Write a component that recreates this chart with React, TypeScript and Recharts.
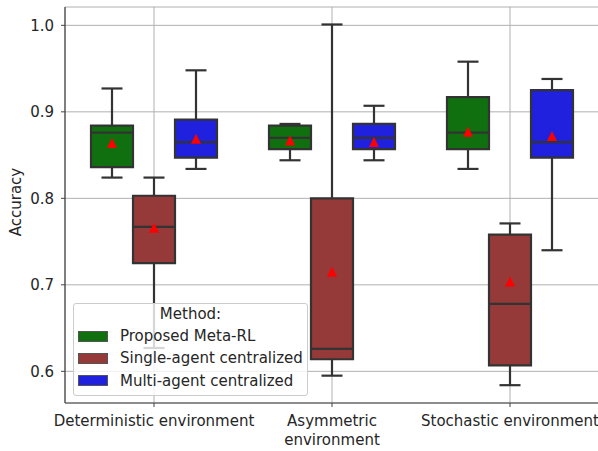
import React from "react";
import { BarChart, Bar, XAxis, YAxis, CartesianGrid, Legend } from "recharts";

const environments = ["Deterministic environment", "Asymmetric\nenvironment", "Stochastic environment"];
const methods = ["Proposed Meta-RL", "Single-agent centralized", "Multi-agent centralized"];
const methodKeys = ["meta", "single", "multi"];
const methodColors = ["#107010", "#963939", "#2020df"];

// per environment: [lower whisker, q1, median, q3, upper whisker, mean]
const metaRL = [
  [0.824, 0.836, 0.876, 0.884, 0.927, 0.864],
  [0.844, 0.857, 0.870, 0.884, 0.886, 0.867],
  [0.834, 0.857, 0.876, 0.917, 0.958, 0.877],
];
const singleAgent = [
  [0.627, 0.725, 0.767, 0.803, 0.824, 0.766],
  [0.595, 0.614, 0.626, 0.800, 1.001, 0.715],
  [0.584, 0.607, 0.678, 0.758, 0.771, 0.704],
];
const multiAgent = [
  [0.834, 0.847, 0.865, 0.891, 0.948, 0.869],
  [0.844, 0.857, 0.870, 0.886, 0.907, 0.865],
  [0.740, 0.847, 0.865, 0.925, 0.938, 0.872],
];
const yTicks = [0.6, 0.7, 0.8, 0.9, 1.0];

const data = environments.map((env, i) => ({
  env,
  meta: metaRL[i],
  single: singleAgent[i],
  multi: multiAgent[i],
}));

const FONT = "DejaVu Sans, sans-serif";
const LINE = "#333333";
const FS = 15;

// draws whiskers, caps, median and mean marker for one box
const Whisker = (props: any) => {
  const { x, y, width, height, payload, statKey } = props;
  const [lo, q1, med, q3, hi, mean] = payload[statKey];
  const top = Math.min(y, y + height);
  const bot = Math.max(y, y + height);
  const pix = (v: number) => top + ((hi - v) / (hi - lo)) * (bot - top);
  const cx = x + width / 2;
  const cap = width / 4;
  const my = pix(mean);
  const s = 10;
  return (
    <g>
      <line x1={cx} x2={cx} y1={pix(q3)} y2={pix(hi)} stroke={LINE} strokeWidth={2.2} />
      <line x1={cx} x2={cx} y1={pix(q1)} y2={pix(lo)} stroke={LINE} strokeWidth={2.2} />
      <line x1={cx - cap} x2={cx + cap} y1={pix(hi)} y2={pix(hi)} stroke={LINE} strokeWidth={2.2} />
      <line x1={cx - cap} x2={cx + cap} y1={pix(lo)} y2={pix(lo)} stroke={LINE} strokeWidth={2.2} />
      <line x1={x} x2={x + width} y1={pix(med)} y2={pix(med)} stroke={LINE} strokeWidth={2.2} />
      <polygon
        points={`${cx},${my - s / 2} ${cx - s / 2},${my + s / 2} ${cx + s / 2},${my + s / 2}`}
        fill="#ff0000"
      />
    </g>
  );
};

const EnvTick = ({ x, y, payload }: any) => {
  const lines = String(payload.value).split("\n");
  return (
    <text x={x} y={y} textAnchor="middle" fill="#262626" fontSize={FS} fontFamily={FONT}>
      {lines.map((l, i) => (
        <tspan key={i} x={x} dy={i === 0 ? "0.71em" : 19}>
          {l}
        </tspan>
      ))}
    </text>
  );
};

const renderLegend = () => (
  <div
    style={{
      width: 235,
      height: 93,
      boxSizing: "border-box",
      background: "rgba(255,255,255,0.8)",
      border: "1px solid #cccccc",
      borderRadius: 3,
      fontFamily: FONT,
      fontSize: FS,
      color: "#262626",
    }}
  >
    <div style={{ textAlign: "center", height: 21, lineHeight: "21px" }}>Method:</div>
    {methods.map((m, i) => (
      <div key={m} style={{ display: "flex", alignItems: "center", height: 22.3 }}>
        <span
          style={{
            display: "inline-block",
            width: 30,
            height: 11,
            marginLeft: 4,
            marginRight: 12,
            background: methodColors[i],
            border: "1px solid #555",
            boxSizing: "border-box",
          }}
        />
        <span>{m}</span>
      </div>
    ))}
  </div>
);

export default function App() {
  return (
    <div style={{ position: "absolute", left: 0, top: 0, width: 598, height: 451, overflow: "hidden", background: "#fff" }}>
      <BarChart
        width={599}
        height={451}
        data={data}
        margin={{ top: 7, right: 0, bottom: 0, left: 0 }}
        barSize={42}
        barGap={0}
        style={{ fontFamily: FONT }}
      >
        <XAxis
          xAxisId="main"
          dataKey="env"
          height={48}
          interval={0}
          tick={<EnvTick />}
          tickSize={4}
          tickMargin={8}
          axisLine={{ stroke: "#444", strokeWidth: 1.2 }}
          tickLine={{ stroke: "#444" }}
        />
        <XAxis
          xAxisId="top"
          dataKey="env"
          orientation="top"
          height={0}
          tick={false}
          tickLine={false}
          axisLine={{ stroke: "#444", strokeWidth: 1.2 }}
        />
        <YAxis
          type="number"
          domain={[0.5634, 1.0212]}
          allowDataOverflow
          ticks={yTicks}
          width={65}
          tickSize={4}
          tickMargin={7}
          tickFormatter={(v: number) => v.toFixed(1)}
          tick={{ fill: "#262626", fontSize: FS, fontFamily: FONT }}
          axisLine={{ stroke: "#444", strokeWidth: 1.2 }}
          tickLine={{ stroke: "#444" }}
          label={{
            content: () => (
              <text
                x={16}
                y={202}
                transform="rotate(-90 16 202)"
                textAnchor="middle"
                dominantBaseline="central"
                fill="#262626"
                fontSize={FS}
                fontFamily={FONT}
              >
                Accuracy
              </text>
            ),
          }}
        />
        {methodKeys.map((k, i) => (
          <Bar
            key={`box-${k}`}
            xAxisId="main"
            name={methods[i]}
            dataKey={(d: any) => [d[k][1], d[k][3]]}
            fill={methodColors[i]}
            stroke={LINE}
            strokeWidth={2.2}
            isAnimationActive={false}
          />
        ))}
        <CartesianGrid xAxisId="main" stroke="#b0b0b0" strokeWidth={1} />
        {methodKeys.map((k, i) => (
          <Bar
            key={`whisker-${k}`}
            xAxisId="top"
            dataKey={(d: any) => [d[k][0], d[k][4]]}
            legendType="none"
            fill="none"
            shape={(p: any) => <Whisker {...p} statKey={k} />}
            isAnimationActive={false}
          />
        ))}
        <Legend
          layout="horizontal"
          verticalAlign="middle"
          align="center"
          content={renderLegend}
          wrapperStyle={{ position: "absolute", left: 73, top: 303, width: 235, height: 93 }}
        />
      </BarChart>
    </div>
  );
}
